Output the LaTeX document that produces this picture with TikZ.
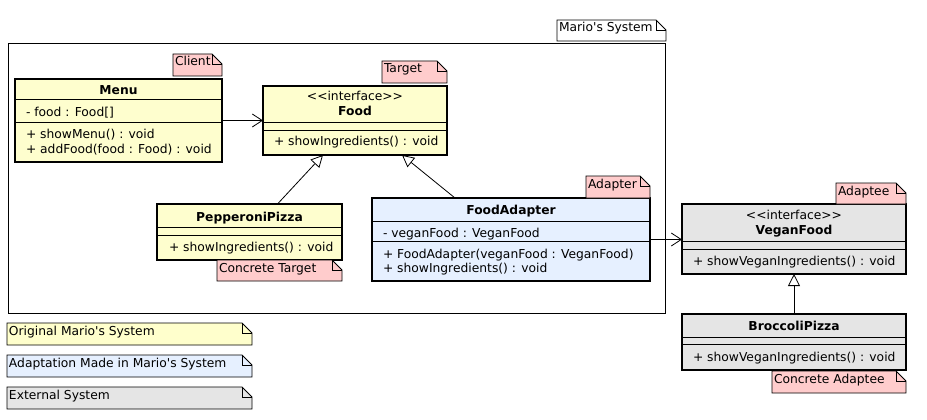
\documentclass[tikz,border=0pt]{standalone}
\usepackage{fontspec}
\setmainfont{DejaVu Sans}
\usetikzlibrary{arrows.meta}
\definecolor{yel}{HTML}{FEFECE}
\definecolor{blu}{HTML}{E6F0FF}
\definecolor{gry}{HTML}{E5E5E5}
\definecolor{pnk}{HTML}{FFCCCC}
\definecolor{lyel}{HTML}{FFFFCC}
\newcommand\umlclass[6]{\node[cls,fill=#6,minimum width={(#4-#2)*1pt},minimum height={(#5-#3)*1pt}] (#1) at ({(#2+#4)/2},{(#3+#5)/2}) {};}
\newcommand\umldiv[2]{\draw[divline] (#1.west |- 0,#2) -- (#1.east |- 0,#2);}
\newcommand\umlnote[7]{%
  \filldraw[notepath,fill=#6] (#2,#3) -- ({#4-10},#3) -- (#4,{#3+10}) -- (#4,#5) -- (#2,#5) -- cycle;
  \draw[notepath] ({#4-10},#3) -- ({#4-10},{#3+10}) -- (#4,{#3+10});
  \node[ntxt] (#1) at ({#2+2},{#3+12}) {#7};}
\newcommand\apos{\textquotesingle}
\begin{document}
\begin{tikzpicture}[x=1pt,y=-1pt,
  every node/.style={font=\fontsize{12.3}{14}\selectfont, inner sep=0pt, outer sep=0pt},
  cls/.style={draw=black, line width=1.6pt},
  divline/.style={line width=1pt},
  ttl/.style={font=\fontsize{12.3}{14}\selectfont\bfseries, anchor=base},
  mem/.style={anchor=base west},
  ster/.style={anchor=base},
  ntxt/.style={anchor=base west},
  notepath/.style={draw=black, line width=0.8pt},
  frame/.style={draw=black, line width=1pt},
  gen/.style={line width=0.8pt, -{Triangle[open,length=12pt,width=12pt,line width=0.8pt]}},
  dep/.style={line width=0.8pt, -{Straight Barb[length=10pt,width=13pt,line width=0.8pt]}},
]
\useasboundingbox (0,0) rectangle (927,420);
\fill[white] (0,0) rectangle (927,420);

% system frame
\node[frame, minimum width=657pt, minimum height=269pt] (sys) at (336.5,178.5) {};
\umlnote{mario}{557}{20}{666}{41}{white}{Mario\apos s System}

% Menu
\umlclass{menu}{15}{79}{222}{162}{yel}
\umldiv{menu}{100}
\umldiv{menu}{122}
\node[ttl] (menuT) at (118.5,95) {Menu};
\node[mem] (menuA) at (26,117) {- food : Food[]};
\node[mem] (menuM1) at (26,139) {+ showMenu() : void};
\node[mem] (menuM2) at (26,153) {+ addFood(food : Food) : void};

% Food
\umlclass{food}{263}{86}{447}{155}{yel}
\umldiv{food}{122}
\umldiv{food}{130}
\node[ster] (foodS) at (355,101) {<\kern0pt<interface>\kern0pt>};
\node[ttl] (foodT) at (355,116) {Food};
\node[mem] (foodM) at (274,146) {+ showIngredients() : void};

% PepperoniPizza
\umlclass{pep}{157}{204}{342}{260}{yel}
\umldiv{pep}{227}
\umldiv{pep}{235}
\node[ttl] (pepT) at (249.5,221) {PepperoniPizza};
\node[mem] (pepM) at (169,251) {+ showIngredients() : void};

% FoodAdapter
\umlclass{fa}{372}{198}{650}{281}{blu}
\umldiv{fa}{221}
\umldiv{fa}{241}
\node[ttl] (faT) at (511,214) {FoodAdapter};
\node[mem] (faA) at (383,237) {- veganFood : VeganFood};
\node[mem] (faM1) at (383,258) {+ FoodAdapter(veganFood : VeganFood)};
\node[mem] (faM2) at (383,272) {+ showIngredients() : void};

% VeganFood
\umlclass{vf}{682}{204}{906}{274}{gry}
\umldiv{vf}{241}
\umldiv{vf}{249}
\node[ster] (vfS) at (794,219) {<\kern0pt<interface>\kern0pt>};
\node[ttl] (vfT) at (794,234) {VeganFood};
\node[mem] (vfM) at (693,265) {+ showVeganIngredients() : void};

% BroccoliPizza
\umlclass{bp}{682}{314}{906}{370}{gry}
\umldiv{bp}{337}
\umldiv{bp}{344}
\node[ttl] (bpT) at (794,330) {BroccoliPizza};
\node[mem] (bpM) at (693,361) {+ showVeganIngredients() : void};

% role notes
\umlnote{client}{173}{54}{222}{76}{pnk}{Client}
\umlnote{target}{382}{61}{447}{83}{pnk}{Target}
\umlnote{ctarget}{217}{260}{342}{281}{pnk}{Concrete Target}
\umlnote{adapter}{586}{176}{650}{198}{pnk}{Adapter}
\umlnote{adaptee}{836}{183}{906}{204}{pnk}{Adaptee}
\umlnote{cadaptee}{772}{371}{906}{393}{pnk}{Concrete Adaptee}

% connectors
\draw[dep] (menu.east) -- (food.west);
\draw[dep] (fa.east) -- (fa.east -| vf.west);
\draw[gen] ([xshift=28pt]pep.north) -- ([xshift=-32pt]food.south);
\draw[gen] ([xshift=-56pt]fa.north) -- ([xshift=47pt]food.south);
\draw[gen] (bp.north) -- (vf.south);

% legend
\umlnote{leg1}{7}{323}{252}{345}{lyel}{Original Mario\apos s System}
\umlnote{leg2}{7}{355}{252}{377}{blu}{Adaptation Made in Mario\apos s System}
\umlnote{leg3}{7}{387}{252}{409}{gry}{External System}
\end{tikzpicture}
\end{document}
